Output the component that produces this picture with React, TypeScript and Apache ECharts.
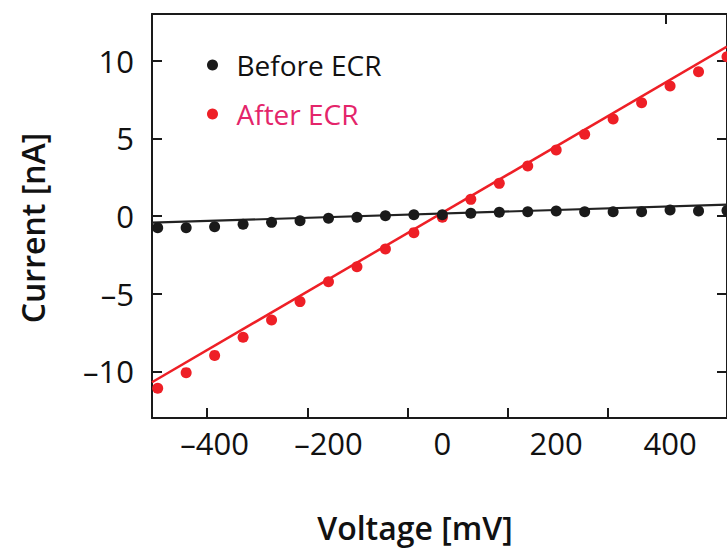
import React, { useEffect, useRef } from "react";
import * as echarts from "echarts";

// Voltage steps (mV)
const voltages = [
  -500, -450, -400, -350, -300, -250, -200, -150, -100, -50, 0,
  50, 100, 150, 200, 250, 300, 350, 400, 450, 500,
];
// Current (nA) before ECR
const beforeECR = [
  -0.75, -0.75, -0.69, -0.53, -0.41, -0.3, -0.15, -0.08, 0.02, 0.08, 0.08,
  0.17, 0.24, 0.28, 0.32, 0.28, 0.28, 0.28, 0.39, 0.32, 0.35,
];
// Current (nA) after ECR
const afterECR = [
  -11.09, -10.08, -8.97, -7.81, -6.69, -5.51, -4.23, -3.26, -2.12, -1.07, -0.08,
  1.07, 2.1, 3.22, 4.25, 5.26, 6.24, 7.29, 8.37, 9.29, 10.25,
];
// Linear fits (end points)
const fitVoltages = [-510, 500];
const beforeFit = [-0.43, 0.73];
const afterFit = [-10.7, 10.9];

// Axis labels / ticks
const xLabels = [-400, -200, 0, 200, 400];
const xTickMarks = [-413, -237, -61, 115, 291];
const xTopTickMarks = [392];
const yLabels = [-10, -5, 0, 5, 10];

const seriesNames = ["Before ECR", "After ECR"];
const xTitle = "Voltage [mV]";
const yTitle = "Current [nA]";

const FONT = "'Open Sans', 'Noto Sans', sans-serif";
const AXIS_COLOR = "#1a1a1a";
const BLACK = "#1a1a1a";
const RED = "#ee1f26";
const RED_TEXT = "#e4256a";

const dash = (v: number) => String(v).replace("-", "\u2013");

export default function App() {
  const ref = useRef<HTMLDivElement>(null);

  useEffect(() => {
    if (!ref.current) return;
    const chart = echarts.init(ref.current, undefined, { renderer: "svg" });

    const pts = (ys: number[]) => voltages.map((v, i) => [v, ys[i]]);
    const fit = (ys: number[]) => fitVoltages.map((v, i) => [v, ys[i]]);

    const axisLine = { show: true, onZero: false, lineStyle: { color: AXIS_COLOR, width: 2 } };
    const tickStyle = { color: AXIS_COLOR, width: 2 };

    chart.setOption({
      animation: false,
      textStyle: { fontFamily: FONT },
      grid: { left: 152, top: 14, width: 578, height: 404, containLabel: false },
      legend: {
        orient: "vertical",
        left: 207,
        top: 51,
        padding: 0,
        itemGap: 21,
        itemWidth: 38,
        itemHeight: 11,
        icon: "circle",
        symbolKeepAspect: true,
        textStyle: { fontSize: 28, fontFamily: FONT },
        data: [
          { name: seriesNames[0], textStyle: { color: "#111" } },
          { name: seriesNames[1], textStyle: { color: RED_TEXT } },
        ],
      },
      graphic: [
        {
          type: "text",
          x: 415,
          y: 527,
          style: {
            text: xTitle,
            fontSize: 32,
            fontWeight: 600,
            fontFamily: FONT,
            fill: "#111",
            align: "center",
            verticalAlign: "middle",
          },
        },
        {
          type: "text",
          x: 32,
          y: 228,
          rotation: Math.PI / 2,
          style: {
            text: yTitle,
            fontSize: 32,
            fontWeight: 600,
            fontFamily: FONT,
            fill: "#111",
            align: "center",
            verticalAlign: "middle",
          },
        },
      ],
      xAxis: [
        {
          type: "value",
          position: "bottom",
          min: -510,
          max: 500,
          axisLine,
          axisTick: { show: true, inside: true, length: 10, customValues: xTickMarks, lineStyle: tickStyle },
          axisLabel: {
            customValues: xLabels,
            fontSize: 31,
            color: "#111",
            margin: 9,
            fontFamily: FONT,
            formatter: dash,
          },
          splitLine: { show: false },
        },
        {
          type: "value",
          position: "top",
          min: -510,
          max: 500,
          axisLine,
          axisTick: { show: true, inside: true, length: 10, customValues: xTopTickMarks, lineStyle: tickStyle },
          axisLabel: { show: false },
          splitLine: { show: false },
        },
      ],
      yAxis: [
        {
          type: "value",
          position: "left",
          min: -13,
          max: 13,
          axisLine,
          axisTick: { show: true, inside: true, length: 10, customValues: yLabels, lineStyle: tickStyle },
          axisLabel: {
            customValues: yLabels,
            fontSize: 31,
            color: "#111",
            margin: 18,
            fontFamily: FONT,
            formatter: dash,
          },
          splitLine: { show: false },
        },
        {
          type: "value",
          position: "right",
          min: -13,
          max: 13,
          axisLine,
          axisTick: { show: true, inside: true, length: 10, customValues: yLabels, lineStyle: tickStyle },
          axisLabel: { show: false },
          splitLine: { show: false },
        },
      ],
      series: [
        {
          name: "Before fit",
          type: "line",
          data: fit(beforeFit),
          symbol: "none",
          lineStyle: { color: "#222", width: 2.2 },
          silent: true,
          z: 1,
        },
        {
          name: "After fit",
          type: "line",
          data: fit(afterFit),
          symbol: "none",
          lineStyle: { color: RED, width: 2.5 },
          silent: true,
          z: 1,
        },
        {
          name: seriesNames[1],
          type: "scatter",
          data: pts(afterECR),
          symbol: "circle",
          symbolSize: 11,
          itemStyle: { color: RED, opacity: 1 },
          z: 2,
        },
        {
          name: seriesNames[0],
          type: "scatter",
          data: pts(beforeECR),
          symbol: "circle",
          symbolSize: 11,
          itemStyle: { color: BLACK, opacity: 1 },
          z: 3,
        },
      ],
    });

    return () => chart.dispose();
  }, []);

  return (
    <div
      ref={ref}
      style={{ position: "fixed", left: 0, top: 0, width: 727, height: 548, background: "#fff" }}
    />
  );
}
